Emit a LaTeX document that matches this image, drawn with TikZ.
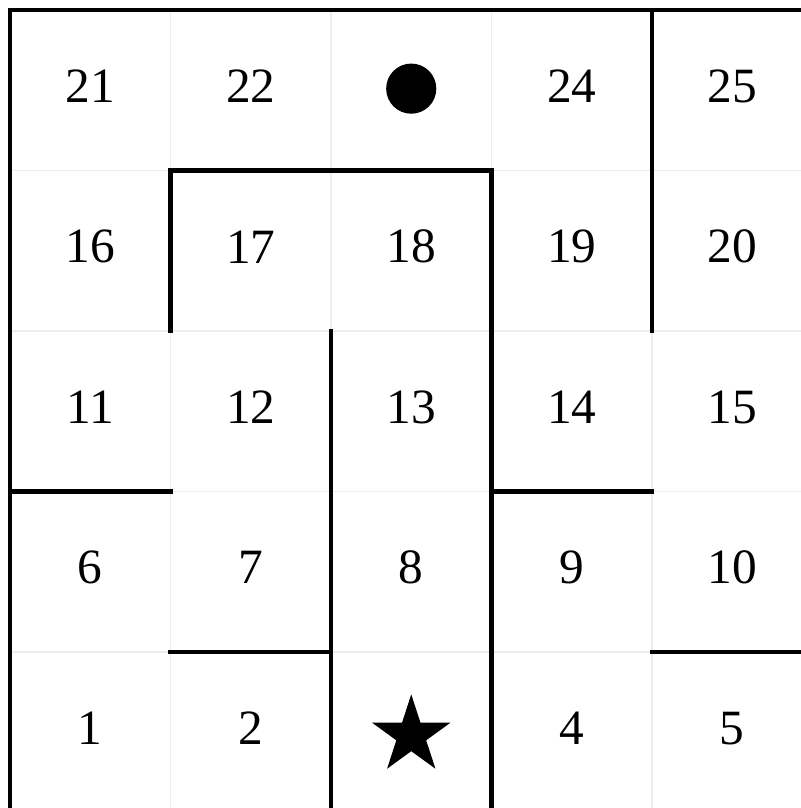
\documentclass[tikz,border=0pt]{standalone}
\usepackage{fontspec}
\setmainfont{Liberation Serif}
\usetikzlibrary{shapes.geometric}

\begin{document}
\begin{tikzpicture}[
    x=1.6cm, y=1.6cm,
    font=\fontsize{14}{17}\selectfont,
    faint/.style={draw=black!7, line width=0.4pt},
    wall/.style={line width=1.2pt, line cap=rect},
    num/.style={inner sep=0pt, yshift=0.4mm},
    goal/.style={circle, fill=black, minimum size=5mm, inner sep=0pt},
    start/.style={star, star points=5, star point ratio=2.618, fill=black, minimum size=8.2mm, inner sep=0pt}
]
\useasboundingbox (-0.0623,0.028) rectangle (4.928,5.0623);
% cell grid
\draw[faint, step=1.6cm] (0,0) grid (5,5);
% cell numbers
\foreach \n in {1,2,4,5,6,...,22,24,25}{
    \pgfmathtruncatemacro\cx{mod(\n-1,5)}
    \pgfmathtruncatemacro\ry{(\n-1)/5}
    \node[num] (c\n) at (\cx+0.5,\ry+0.5) {\n};
}
\node[goal] (dot) at (2.5,4.51) {};
\node[start] (startstar) at (2.5,0.48) {};
% walls
\draw[wall] (0,0) -- (0,5) -- (5,5);
\draw[wall] (4,5) -- (4,3);
\draw[wall] (1,3) -- (1,4) -- (3,4) -- (3,0);
\draw[wall] (2,0) -- (2,3);
\draw[wall] (1,1) -- (2,1);
\draw[wall] (0,2) -- (1,2);
\draw[wall] (3,2) -- (4,2);
\draw[wall] (4,1) -- (5,1);
\end{tikzpicture}
\end{document}
